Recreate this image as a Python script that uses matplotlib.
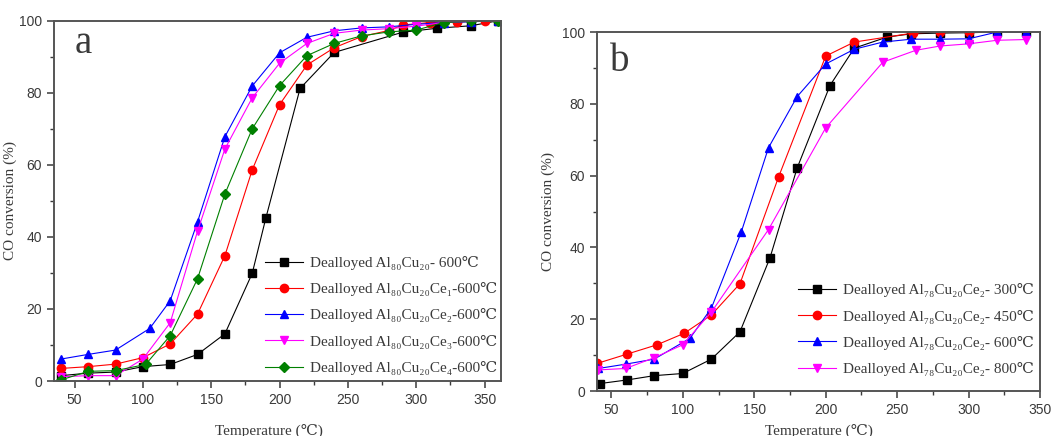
import numpy as np
import matplotlib.pyplot as plt
from matplotlib.ticker import MultipleLocator

serif = ['Liberation Serif', 'DejaVu Serif']
sans = ['Liberation Sans', 'DejaVu Sans']
grey = '#3a3a3a'

# ---------- panel a : Al80Cu20Cex calcined at 600 C
a_t_black = [40, 60, 80, 100, 120, 140, 160, 180, 190, 215, 240, 290, 315, 340, 360]
a_y_black = [1.5, 2.2, 2.5, 4.0, 4.6, 7.4, 13.1, 29.9, 45.3, 81.2, 91.2, 96.8, 97.9, 98.6, 100]
a_t_red = [40, 60, 80, 100, 120, 140, 160, 180, 200, 220, 240, 260, 280, 290, 310, 330, 350]
a_y_red = [3.5, 4.0, 4.7, 6.5, 10.3, 18.6, 34.8, 58.6, 76.7, 87.7, 92.5, 95.6, 97.3, 98.8, 99.5, 99.7, 100]
a_t_blue = [40, 60, 80, 105, 120, 140, 160, 180, 200, 220, 240, 260, 280, 300, 320, 340, 360]
a_y_blue = [6.1, 7.4, 8.6, 14.6, 22.3, 44.2, 67.8, 81.9, 91.1, 95.4, 97.2, 98.0, 98.3, 99.0, 99.5, 99.7, 100]
a_t_mag = [40, 60, 80, 100, 120, 140, 160, 180, 200, 220, 240, 260, 280, 300, 320, 340, 360]
a_y_mag = [1.2, 1.5, 1.5, 6.1, 16.2, 41.6, 64.4, 78.6, 88.2, 93.7, 96.5, 97.4, 97.8, 98.5, 99.5, 99.8, 100]
a_t_green = [40, 60, 80, 102, 120, 140, 160, 180, 200, 220, 240, 260, 280, 300, 320, 340, 360]
a_y_green = [0.3, 2.7, 2.9, 4.6, 12.6, 28.4, 51.9, 70.0, 82.0, 90.3, 93.7, 95.8, 96.9, 97.4, 99.5, 99.8, 100]
a_labels = ['Dealloyed Al₈₀Cu₂₀- 600℃',
            'Dealloyed Al₈₀Cu₂₀Ce₁-600℃',
            'Dealloyed Al₈₀Cu₂₀Ce₂-600℃',
            'Dealloyed Al₈₀Cu₂₀Ce₃-600℃',
            'Dealloyed Al₈₀Cu₂₀Ce₄-600℃']

# ---------- panel b : Al78Cu20Ce2 at different calcination temperatures
b_t_black = [42, 61, 80, 100, 120, 140, 161, 180, 203, 220, 243, 260, 280, 300, 320, 340]
b_y_black = [2.1, 3.1, 4.3, 4.9, 8.9, 16.5, 37.1, 62.1, 85.1, 95.5, 98.6, 99.5, 99.7, 99.8, 100, 100]
b_t_red = [40, 61, 82, 101, 120, 140, 167, 200, 220, 261, 280, 300]
b_y_red = [7.7, 10.3, 12.9, 16.1, 21.2, 29.9, 59.6, 93.3, 97.2, 99.7, 100, 100]
b_t_blue = [41, 60, 80, 105, 120, 141, 160, 180, 200, 220, 240, 260, 280, 300, 320, 340]
b_y_blue = [6.3, 7.5, 8.9, 14.7, 23.1, 44.4, 67.8, 82.0, 91.1, 95.2, 97.2, 98.0, 98.0, 98.1, 100, 100]
b_t_mag = [41, 60, 80, 100, 120, 160, 200, 240, 263, 280, 300, 320, 340]
b_y_mag = [5.9, 6.3, 9.3, 12.9, 22.0, 45.0, 73.3, 91.6, 94.9, 96.1, 96.7, 97.7, 97.9]
b_labels = ['Dealloyed Al₇₈Cu₂₀Ce₂- 300℃',
            'Dealloyed Al₇₈Cu₂₀Ce₂- 450℃',
            'Dealloyed Al₇₈Cu₂₀Ce₂- 600℃',
            'Dealloyed Al₇₈Cu₂₀Ce₂- 800℃']

styles = [('black', 's'), ('red', 'o'), ('blue', '^'), ('magenta', 'v'), ('green', 'D')]

fig = plt.figure(figsize=(10.53, 4.36), dpi=100)
ax1 = fig.add_axes([0.0513, 0.126, 0.4245, 0.8265])
ax2 = fig.add_axes([0.567, 0.103, 0.4207, 0.8236])

a_data = [(a_t_black, a_y_black), (a_t_red, a_y_red), (a_t_blue, a_y_blue),
          (a_t_mag, a_y_mag), (a_t_green, a_y_green)]
b_data = [(b_t_black, b_y_black), (b_t_red, b_y_red), (b_t_blue, b_y_blue),
          (b_t_mag, b_y_mag)]

for ax, data, labels in [(ax1, a_data, a_labels), (ax2, b_data, b_labels)]:
    for (t, y), (c, m), lab in zip(data, styles, labels):
        ms = 5.2 if m == 'D' else 6
        ax.plot(t, y, color=c, marker=m, ms=ms, lw=0.8, label=lab)

ax1.set_xlim(35, 362)
ax2.set_xlim(40, 350)

for ax in (ax1, ax2):
    ax.set_ylim(0, 100)
    ax.xaxis.set_major_locator(MultipleLocator(50))
    ax.xaxis.set_minor_locator(MultipleLocator(25))
    ax.yaxis.set_major_locator(MultipleLocator(20))
    ax.yaxis.set_minor_locator(MultipleLocator(10))
    ax.tick_params(which='both', direction='out', color=grey, top=False, right=False)
    ax.tick_params(which='major', length=5, width=1.1)
    ax.tick_params(which='minor', length=3, width=1.0)
    for lab in ax.get_xticklabels() + ax.get_yticklabels():
        lab.set_family(sans)
        lab.set_fontsize(10)
        lab.set_color(grey)
    for s in ax.spines.values():
        s.set_color('#555555')
        s.set_linewidth(1.4)
    ax.set_ylabel('CO conversion (%)', family=serif, fontsize=11, color=grey)
    ax.set_xlabel('Temperature (℃)', family=serif, fontsize=11, color=grey)

ax1.yaxis.set_label_coords(-0.083, 0.5)
ax2.yaxis.set_label_coords(-0.095, 0.5)
ax1.xaxis.set_label_coords(0.48, -0.118)
ax2.xaxis.set_label_coords(0.5, -0.09)

ax1.text(0.047, 0.911, 'a', transform=ax1.transAxes, family=serif, fontsize=28, color=grey)
ax2.text(0.03, 0.892, 'b', transform=ax2.transAxes, family=serif, fontsize=28, color=grey)

leg_kw = dict(frameon=False, handlelength=2.5, handletextpad=0.45, borderaxespad=0.0,
              labelspacing=0.8, prop={'family': serif, 'size': 11})
l1 = ax1.legend(loc='lower right', bbox_to_anchor=(1.005, 0.0), **leg_kw)
l2 = ax2.legend(loc='lower right', bbox_to_anchor=(1.0, 0.025), **leg_kw)
for leg in (l1, l2):
    for txt in leg.get_texts():
        txt.set_color(grey)

fig.savefig('out.png', dpi=100)
